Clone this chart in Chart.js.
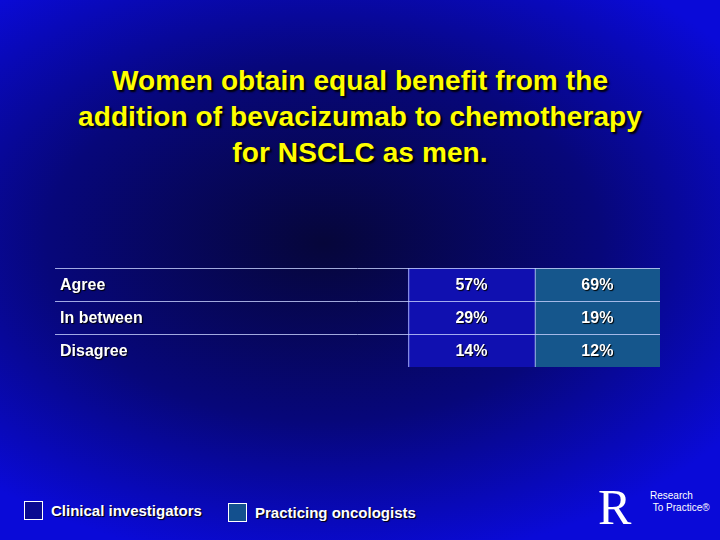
<!DOCTYPE html>
<html><head><meta charset="utf-8">
<script src="https://cdn.jsdelivr.net/npm/chart.js@4"></script>
<style>
html,body{margin:0;width:720px;height:540px;overflow:hidden;font-family:"Liberation Sans",Arial,sans-serif;}
body{background:radial-gradient(ellipse 70% 60% at 45% 45%, #06063a 0%, #07077a 55%, #0a0ad8 100%);position:relative;}
#title{position:absolute;top:63px;left:0;width:720px;text-align:center;color:#ffff00;font-weight:bold;font-size:28px;line-height:36px;text-shadow:2px 2px 2px #000;letter-spacing:0.1px;}
#wrap{position:absolute;left:55px;top:268px;width:605px;height:99px;}
.leg{position:absolute;top:501px;color:#fff;font-weight:bold;font-size:15px;text-shadow:1px 1px 1px #000;}
.leg span{display:inline-block;width:17px;height:17px;border:1px solid #fff;vertical-align:-4px;margin-right:8px;}
#logo{position:absolute;left:598px;top:478px;color:#fff;font-family:"Liberation Serif",serif;}
</style></head><body>
<div id="title">Women obtain equal benefit from the<br>addition of bevacizumab to chemotherapy<br>for NSCLC as men.</div>
<div id="wrap"><canvas id="c"></canvas></div>
<div class="leg" style="left:24px"><span style="background:#0a0a90"></span>Clinical investigators</div>
<div class="leg" style="left:228px;top:503px"><span style="background:#13508e"></span>Practicing oncologists</div>
<div id="logo"><span style="font-size:50px;">R</span><span style="position:absolute;left:52px;top:12px;font-family:'Liberation Sans';font-size:10px;line-height:12px;width:80px">Research<br>&nbsp;To Practice®</span></div>
<script>
const rows=["Agree","In between","Disagree"];
const clinical=["57%","29%","14%"];
const practicing=["69%","19%","12%"];
const colEdges=[0,2.82,3.83,4.83];
const textPlugin={id:'t',afterDatasetsDraw(ch){
 const ctx=ch.ctx,x=ch.scales.x,y=ch.scales.y;
 ctx.save();
 ctx.strokeStyle='rgba(200,210,255,0.8)';ctx.lineWidth=1;
 const top=ch.chartArea.top,bot=ch.chartArea.bottom;
 for(let i=0;i<rows.length;i++){
  const yc=y.getPixelForValue(i),h=(bot-top)/rows.length;
  ctx.beginPath();ctx.moveTo(x.getPixelForValue(colEdges[0]),yc-h/2+0.5);ctx.lineTo(x.getPixelForValue(colEdges[3]),yc-h/2+0.5);ctx.stroke();
 }
 [1,2].forEach(k=>{ctx.beginPath();ctx.moveTo(x.getPixelForValue(colEdges[k])+0.5,top);ctx.lineTo(x.getPixelForValue(colEdges[k])+0.5,bot);ctx.stroke();});
 ctx.font='bold 16px "Liberation Sans",Arial';ctx.fillStyle='#fff';ctx.textBaseline='middle';
 ctx.shadowColor='#000';ctx.shadowOffsetX=1;ctx.shadowOffsetY=1;ctx.shadowBlur=1;
 rows.forEach((r,i)=>{const yc=y.getPixelForValue(i)+1;
  ctx.textAlign='left';ctx.fillText(r,x.getPixelForValue(colEdges[0])+5,yc);
  ctx.textAlign='center';
  ctx.fillText(clinical[i],x.getPixelForValue((colEdges[1]+colEdges[2])/2),yc);
  ctx.fillText(practicing[i],x.getPixelForValue((colEdges[2]+colEdges[3])/2),yc);});
 ctx.restore();}};
new Chart(document.getElementById('c'),{type:'bar',
 data:{labels:rows,datasets:[
  {label:'Clinical investigators',data:rows.map(()=>[colEdges[1],colEdges[2]]),backgroundColor:'#1010b0',barPercentage:1,categoryPercentage:1,grouped:false},
  {label:'Practicing oncologists',data:rows.map(()=>[colEdges[2],colEdges[3]]),backgroundColor:'#15568c',barPercentage:1,categoryPercentage:1,grouped:false}]},
 options:{indexAxis:'y',responsive:true,maintainAspectRatio:false,animation:false,
  layout:{padding:0},
  plugins:{legend:{display:false},tooltip:{enabled:false}},
  scales:{x:{type:'linear',min:0,max:colEdges[3],display:false},y:{display:false}}},
 plugins:[textPlugin]});
</script></body></html>
